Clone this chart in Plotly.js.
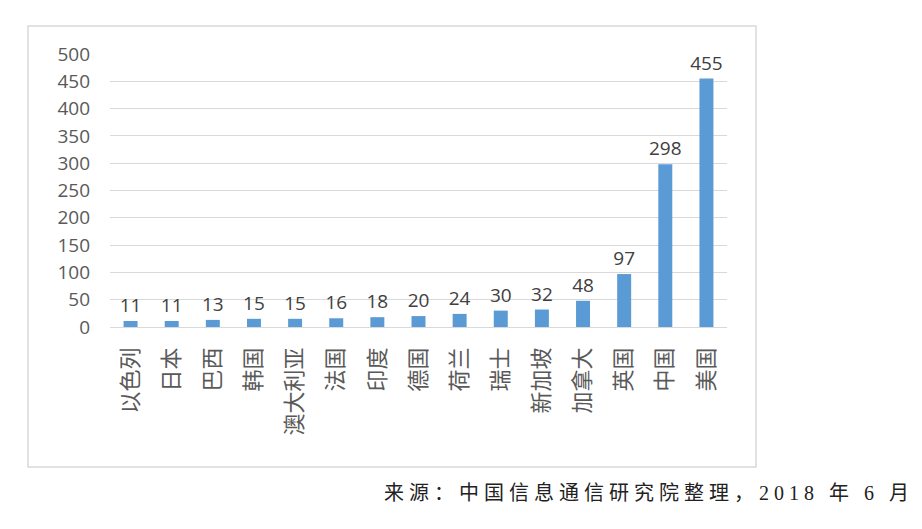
<!DOCTYPE html>
<html>
<head>
<meta charset="utf-8">
<script src="https://cdn.plot.ly/plotly-3.0.1.min.js"></script>
<style>
  html, body { margin: 0; padding: 0; background: #fff; }
  #chart { width: 922px; height: 529px; }
</style>
</head>
<body>
<div id="chart"></div>
<script>
// countries and their counts, left to right
const countries = ["以色列", "日本", "巴西", "韩国", "澳大利亚", "法国", "印度", "德国", "荷兰", "瑞士", "新加坡", "加拿大", "英国", "中国", "美国"]
const counts = [11, 11, 13, 15, 15, 16, 18, 20, 24, 30, 32, 48, 97, 298, 455]
const yTicks = [0, 50, 100, 150, 200, 250, 300, 350, 400, 450, 500]
const sourceNote = "来源：中国信息通信研究院整理，2018 年 6 月"

let trace = {
    type: "bar",
    x: countries,
    y: counts,
    text: counts.map(String),
    textposition: "outside",
    constraintext: "none",
    cliponaxis: false,
    textfont: { family: "Open Sans, sans-serif", size: 19, color: "#404040" },
    marker: { color: "#5B9BD5" },
    hoverinfo: "x+y"
}

let layout = {
    width: 922,
    height: 529,
    margin: { l: 110, r: 195, t: 54, b: 202 },
    paper_bgcolor: "#ffffff",
    plot_bgcolor: "#ffffff",
    showlegend: false,
    bargap: 0.66,
    font: { family: "Open Sans, Noto Sans CJK SC, sans-serif", color: "#595959" },
    xaxis: {
        type: "category",
        tickangle: -90,
        tickfont: { family: "Noto Sans CJK SC, sans-serif", size: 22, color: "#595959" },
        ticks: "",
        ticklabelstandoff: 15,
        showline: false,
        showgrid: false,
        zeroline: false
    },
    yaxis: {
        range: [0, 500],
        tickmode: "array",
        tickvals: yTicks,
        ticktext: yTicks.map(String),
        tickfont: { family: "Open Sans, sans-serif", size: 19, color: "#595959" },
        ticks: "",
        ticklabelstandoff: 19,
        showgrid: true,
        gridcolor: "#d9d9d9",
        gridwidth: 1,
        zeroline: true,
        zerolinecolor: "#d9d9d9",
        zerolinewidth: 1,
        showline: false
    },
    shapes: [
        // outer chart frame
        {
            type: "rect", xref: "paper", yref: "paper",
            x0: -0.1329, x1: 1.047, y0: -0.5128, y1: 1.1026,
            line: { color: "#d9d9d9", width: 1.5 },
            fillcolor: "rgba(0,0,0,0)",
            layer: "below"
        }
    ],
    annotations: [
        {
            xref: "paper", yref: "paper",
            x: 0.4408, y: -0.608,
            xanchor: "left", yanchor: "middle",
            showarrow: false,
            text: '<span style="letter-spacing:5px">' + sourceNote + '</span>',
            font: { family: "Liberation Serif, Noto Sans CJK SC, serif", size: 20, color: "#222222" }
        }
    ]
}

Plotly.newPlot("chart", [trace], layout, { displayModeBar: false, staticPlot: true })
</script>
</body>
</html>
